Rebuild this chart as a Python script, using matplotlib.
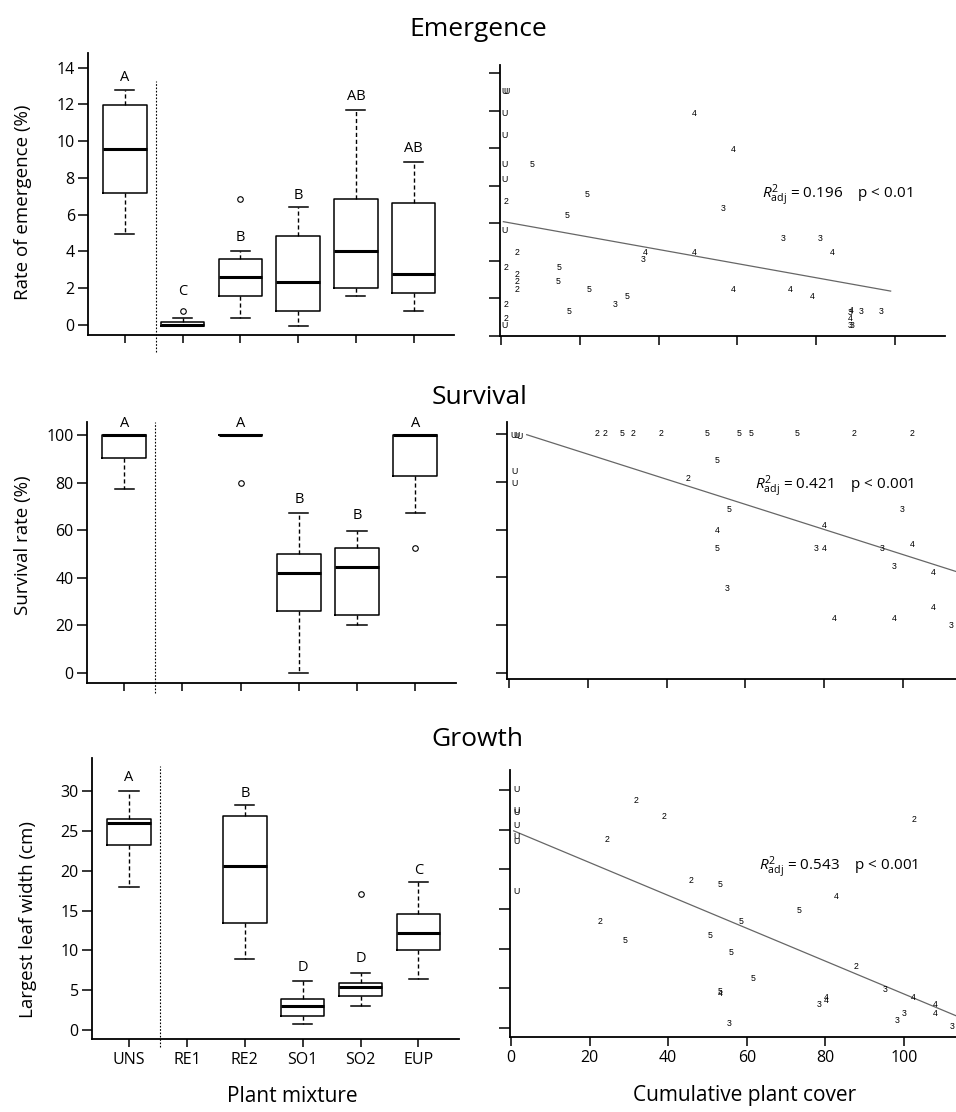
import numpy as np
import matplotlib.pyplot as plt

plt.rcParams['font.family'] = ['Open Sans', 'DejaVu Sans']
plt.rcParams['mathtext.fontset'] = 'custom'
plt.rcParams['mathtext.rm'] = 'Open Sans'
plt.rcParams['mathtext.it'] = 'Open Sans:italic'

# ---- data ----
mixtures = ['UNS', 'RE1', 'RE2', 'SO1', 'SO2', 'EUP']

# emergence boxes (whisker low, q1, median, q3, whisker high)
em_lo = [4.95, -0.04, 0.36, -0.04, 1.58, 0.76]
em_q1 = [7.2, -0.04, 1.58, 0.76, 2.0, 1.76]
em_med = [9.55, 0.0, 2.6, 2.36, 4.04, 2.76]
em_q3 = [11.95, 0.18, 3.6, 4.82, 6.84, 6.65]
em_hi = [12.8, 0.36, 4.04, 6.44, 11.7, 8.87]
em_out = [[], [0.76], [6.85], [], [], []]
em_letters = ['A', 'C', 'B', 'B', 'AB', 'AB']
em_letter_y = [13.45, 1.82, 4.73, 7.05, 12.42, 9.58]

# survival boxes, RE1 has no data
su_lo = [77.4, None, 100, 0.0, 20.1, 67.5]
su_q1 = [90.6, None, 100, 26.1, 24.3, 82.9]
su_med = [100, None, 100, 42.2, 44.6, 100]
su_q3 = [100, None, 100, 50.2, 52.6, 100]
su_hi = [100, None, 100, 67.2, 59.9, 100]
su_out = [[], [], [80.0], [], [], [52.6]]
su_letters = ['A', '', 'A', 'B', 'B', 'A']
su_letter_y = [104.9, 0, 104.9, 73.1, 66.1, 104.9]

# growth boxes, RE1 has no data
gr_lo = [17.96, None, 8.94, 0.76, 2.98, 6.46]
gr_q1 = [23.25, None, 13.4, 1.76, 4.24, 10.07]
gr_med = [26.06, None, 20.6, 3.06, 5.41, 12.17]
gr_q3 = [26.5, None, 26.86, 3.94, 5.96, 14.56]
gr_hi = [30.1, None, 28.24, 6.2, 7.2, 18.67]
gr_out = [[], [], [], [], [17.1], []]
gr_letters = ['A', '', 'B', 'D', 'D', 'C']
gr_letter_y = [31.7, 0, 29.7, 7.9, 9.0, 20.0]

# scatter: cumulative plant cover vs response, labelled by mixture code
em_cover = [1.0, 1.5, 0.9, 0.9, 0.9, 0.9, 1.3, 0.9, 4.0, 1.3, 4.0, 4.0, 4.0, 1.3, 1.3, 1.0,
            7.9, 21.9, 16.8, 14.8, 14.4, 22.4, 31.9, 17.3, 28.9, 36.5, 36.0, 49.0, 49.0, 59.0,
            56.4, 71.5, 81.0, 84.1, 59.0, 73.5, 79.0, 88.8, 88.6, 88.6, 88.6, 89.0, 91.5, 96.6]
em_rate = [13.0, 13.0, 11.84, 10.68, 9.11, 8.32, 7.16, 5.61, 4.43, 3.66, 3.27, 2.88, 2.48, 1.70, 0.95, 0.55,
           9.11, 7.55, 6.39, 3.66, 2.88, 2.48, 2.09, 1.30, 1.70, 4.43, 4.05, 4.43, 11.84, 9.91,
           6.77, 5.21, 5.21, 4.43, 2.48, 2.48, 2.09, 1.34, 1.27, 0.95, 0.55, 0.55, 1.30, 1.30]
em_code = ['U', 'U', 'U', 'U', 'U', 'U', '2', 'U', '2', '2', '2', '2', '2', '2', '2', 'U',
           '5', '5', '5', '5', '5', '5', '5', '5', '3', '4', '3', '4', '4', '4',
           '3', '3', '3', '4', '4', '4', '4', '4', '3', '4', '3', '3', '3', '3']
em_fit = (6.11, -0.0376)
em_fit_x = (0.6, 98.9)

su_cover = [1.1, 1.9, 2.6, 1.3, 1.3, 22.4, 24.3, 28.7, 31.6, 38.5, 50.4, 58.3, 61.4, 73.2, 87.5, 102.3,
            52.8, 45.5, 55.9, 52.8, 52.8, 55.4, 80.1, 78.0, 80.1, 94.8, 99.8, 102.3, 97.9, 107.8,
            107.8, 82.6, 97.9, 112.3]
su_rate = [99.3, 99.2, 99.0, 84.1, 79.2, 100, 100, 100, 100, 100, 100, 100, 100, 100, 100, 100,
           89.0, 81.2, 68.6, 59.8, 52.1, 35.3, 61.7, 52.1, 52.1, 52.1, 68.6, 53.9, 44.4, 42.2,
           27.5, 22.6, 22.6, 19.8]
su_code = ['U', 'U', 'U', 'U', 'U', '2', '2', '5', '2', '2', '5', '5', '5', '5', '2', '2',
           '5', '2', '5', '4', '5', '3', '4', '3', '4', '3', '3', '4', '3', '4',
           '4', '4', '4', '3']
su_fit = (102.06, -0.525)
su_fit_x = (4.5, 120)

gr_cover = [1.5, 1.4, 1.5, 1.5, 1.4, 1.4, 1.5, 31.9, 38.9, 24.5, 102.5, 45.7, 53.2, 82.8, 73.4,
            58.6, 22.6, 29.0, 50.7, 56.1, 61.6, 53.2, 53.2, 87.8, 95.1, 102.4, 107.9, 107.9, 100.1,
            98.1, 112.2, 78.3, 80.3, 80.3, 55.6]
gr_width = [30.1, 27.4, 27.1, 25.5, 24.1, 23.5, 17.2, 28.7, 26.6, 23.7, 26.3, 18.6, 18.1, 16.6, 14.8,
            13.4, 13.4, 11.0, 11.7, 9.5, 6.2, 4.66, 4.4, 7.8, 4.9, 3.9, 3.0, 1.8, 1.85,
            0.97, 0.25, 3.0, 3.86, 3.5, 0.63]
gr_code = ['U', 'U', 'U', 'U', 'U', 'U', 'U', '2', '2', '2', '2', '2', '5', '4', '5',
           '5', '2', '5', '5', '5', '5', '5', '4', '2', '3', '4', '4', '4', '3',
           '3', '3', '3', '4', '4', '3']
gr_fit = (24.98, -0.207)
gr_fit_x = (0.7, 120)

fig = plt.figure(figsize=(9.56, 11.12), dpi=100)


def px_axes(x0, x1, y0, y1):
    return fig.add_axes([x0 / 956, 1 - y1 / 1112, (x1 - x0) / 956, (y1 - y0) / 1112])


def box_panel(ax, lo, q1, med, q3, hi, out, letters, letter_y, yticks, ylim, sep):
    stats, pos = [], []
    for i in range(len(mixtures)):
        if med[i] is None:
            continue
        stats.append(dict(whislo=lo[i], q1=q1[i], med=med[i], q3=q3[i], whishi=hi[i],
                          fliers=np.array(out[i])))
        pos.append(i + 1)
    ax.bxp(stats, positions=pos, widths=0.75, capwidths=0.33,
           boxprops=dict(lw=1.1, color='k'),
           medianprops=dict(color='k', lw=2.2),
           whiskerprops=dict(ls=(0, (3, 2)), lw=1.0, color='k'),
           capprops=dict(lw=1.1, color='k'),
           flierprops=dict(marker='o', mfc='none', mec='k', ms=4, mew=0.8))
    for i, (l, y) in enumerate(zip(letters, letter_y)):
        if l:
            ax.text(i + 1, y, l, ha='center', va='center', fontsize=10.5)
    ax.axvline(1.53, ymin=sep[0], ymax=sep[1], color='k', lw=0.8, ls=(0, (1.5, 1.5)), clip_on=False)
    ax.set_xlim(0.36, 6.7)
    ax.set_ylim(*ylim)
    ax.set_yticks(yticks)
    ax.set_xticks(range(1, 7))
    ax.set_xticklabels([])
    for s in ['top', 'right']:
        ax.spines[s].set_visible(False)
    for s in ['left', 'bottom']:
        ax.spines[s].set_linewidth(1.3)
    ax.tick_params(axis='y', length=7.5, width=1.1, labelsize=11.5, pad=2)
    ax.tick_params(axis='x', length=6, width=1.1, labelsize=11.5, pad=3)


def scatter_panel(ax, cover, resp, code, fit, fit_x, xlim, ylim, yticks, txt, txt_xy):
    for x, y, c in zip(cover, resp, code):
        ax.text(x, y, c, ha='center', va='center', fontsize=6.3, family='Liberation Sans')
    fx = np.array(fit_x)
    ax.plot(fx, fit[0] + fit[1] * fx, color='#666666', lw=0.9)
    ax.text(txt_xy[0], txt_xy[1], txt, ha='left', va='center', fontsize=11)
    ax.set_xlim(*xlim)
    ax.set_ylim(*ylim)
    ax.set_yticks(yticks)
    ax.set_yticklabels([])
    ax.set_xticks(range(0, 101, 20))
    ax.set_xticklabels([])
    for s in ['top', 'right']:
        ax.spines[s].set_visible(False)
    for s in ['left', 'bottom']:
        ax.spines[s].set_linewidth(1.3)
    ax.tick_params(axis='y', length=8, width=1.1)
    ax.tick_params(axis='x', length=6.5, width=1.1, labelsize=11.5, pad=3)


ax1 = px_axes(88, 454, 53, 335)
box_panel(ax1, em_lo, em_q1, em_med, em_q3, em_hi, em_out, em_letters, em_letter_y,
          range(0, 15, 2), (-0.55, 14.8), (-0.06, 0.9))

ax2 = px_axes(500, 945, 65, 336)
scatter_panel(ax2, em_cover, em_rate, em_code, em_fit, em_fit_x, (-0.25, 112.7), (0, 14.43),
              range(0, 15, 2), r'$R^2_{\mathrm{adj}}$ = 0.196    p < 0.01', (66.2, 7.5))

ax3 = px_axes(87, 456, 422, 683)
box_panel(ax3, su_lo, su_q1, su_med, su_q3, su_hi, su_out, su_letters, su_letter_y,
          range(0, 101, 20), (-4.2, 105.6), (-0.04, 1.0))

ax4 = px_axes(507, 956, 422, 679)
scatter_panel(ax4, su_cover, su_rate, su_code, su_fit, su_fit_x, (-0.5, 113.5), (-2.5, 105),
              range(0, 101, 20), r'$R^2_{\mathrm{adj}}$ = 0.421    p < 0.001', (62.4, 78.2))

ax5 = px_axes(92, 459, 758, 1039)
box_panel(ax5, gr_lo, gr_q1, gr_med, gr_q3, gr_hi, gr_out, gr_letters, gr_letter_y,
          range(0, 31, 5), (-1.13, 34.2), (-0.03, 0.97))
ax5.set_xticklabels(mixtures)

ax6 = px_axes(510, 956, 770, 1037)
scatter_panel(ax6, gr_cover, gr_width, gr_code, gr_fit, gr_fit_x, (-0.25, 113.2), (-1.13, 32.5),
              range(0, 31, 5), r'$R^2_{\mathrm{adj}}$ = 0.543    p < 0.001', (63.2, 20.3))
ax6.set_xticklabels([str(v) for v in range(0, 101, 20)])


def ftext(x, y, s, **kw):
    fig.text(x / 956, 1 - y / 1112, s, ha='center', va='center', **kw)


ftext(478, 30, 'Emergence', fontsize=19)
ftext(480, 397, 'Survival', fontsize=19)
ftext(477, 740, 'Growth', fontsize=19)
ftext(23, 202, 'Rate of emergence (%)', fontsize=13.5, rotation=90)
ftext(23, 545, 'Survival rate (%)', fontsize=13.5, rotation=90)
ftext(28, 919, 'Largest leaf width (cm)', fontsize=13.5, rotation=90)
ftext(292, 1096, 'Plant mixture', fontsize=15)
ftext(745, 1096, 'Cumulative plant cover', fontsize=15)

fig.savefig('out.png', dpi=100)
